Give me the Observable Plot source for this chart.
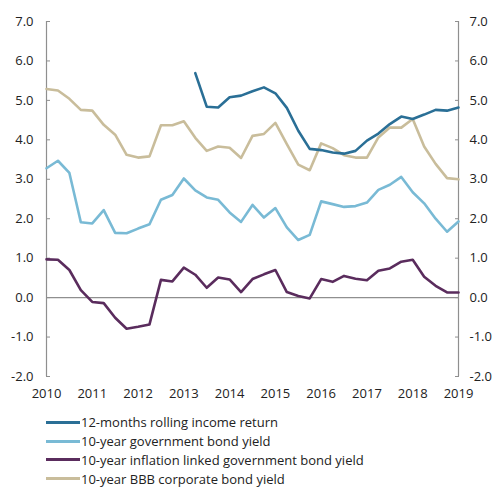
<!DOCTYPE html>
<html>
<head>
<meta charset="utf-8">
<script src="https://cdn.jsdelivr.net/npm/d3@7"></script>
<script src="https://cdn.jsdelivr.net/npm/@observablehq/plot@0.6"></script>
<style>
  body { margin: 0; background: #fff; font-family: "Open Sans", sans-serif; }
  #chart svg { display: block; }
  .legend { margin: 8px 0 0 46px; font-size: 13px; color: #222; }
  .legend .row { display: flex; align-items: center; height: 18.8px; }
  .legend .swatch { width: 34px; height: 3px; margin-right: 1px; }
</style>
</head>
<body>
<div id="chart"></div>
<div class="legend" id="legend"></div>
<script>
// Quarterly observations, 2010 Q1 to 2019 Q1
const quarters = d3.range(0, 37).map(i => 2010 + i / 4);

const seriesNames = [
  "12-months rolling income return",
  "10-year government bond yield",
  "10-year inflation linked government bond yield",
  "10-year BBB corporate bond yield"
];
const seriesColors = ["#2a6f96", "#79bad5", "#5a2c5d", "#c9bd9b"];

// Income return starts in 2013 Q2 (null before that)
const incomeReturn = [
  null, null, null, null, null, null, null, null, null, null, null, null, null,
  5.69, 4.84, 4.82, 5.08, 5.12, 5.23, 5.33, 5.18, 4.81, 4.23, 3.77, 3.74,
  3.68, 3.65, 3.72, 3.98, 4.16, 4.40, 4.59, 4.53, 4.64, 4.76, 4.74, 4.82
];
const govYield = [
  3.28, 3.47, 3.16, 1.91, 1.88, 2.22, 1.64, 1.63, 1.75, 1.86, 2.48, 2.60, 3.02,
  2.72, 2.54, 2.48, 2.16, 1.92, 2.35, 2.03, 2.27, 1.78, 1.46, 1.59, 2.44,
  2.37, 2.30, 2.32, 2.41, 2.73, 2.86, 3.06, 2.67, 2.39, 2.00, 1.67, 1.93
];
const linkedYield = [
  0.97, 0.96, 0.70, 0.19, -0.11, -0.14, -0.51, -0.79, -0.74, -0.68, 0.45, 0.41, 0.76,
  0.58, 0.25, 0.51, 0.46, 0.14, 0.47, 0.59, 0.70, 0.14, 0.04, -0.02, 0.47,
  0.40, 0.55, 0.48, 0.44, 0.68, 0.74, 0.91, 0.96, 0.53, 0.30, 0.13, 0.13
];
const bbbYield = [
  5.29, 5.25, 5.04, 4.76, 4.74, 4.38, 4.13, 3.62, 3.55, 3.58, 4.37, 4.37, 4.47,
  4.05, 3.72, 3.83, 3.80, 3.54, 4.10, 4.15, 4.43, 3.89, 3.37, 3.23, 3.91,
  3.79, 3.61, 3.55, 3.55, 4.06, 4.31, 4.31, 4.53, 3.83, 3.39, 3.03, 3.00
];

const yTicks = [-2, -1, 0, 1, 2, 3, 4, 5, 6, 7];
const xTicks = d3.range(2010, 2020);

const allSeries = [incomeReturn, govYield, linkedYield, bbbYield];
const rows = allSeries.flatMap((vals, s) =>
  vals.map((v, i) => ({ date: quarters[i], value: v, series: seriesNames[s] }))
);

// Draw order: BBB at the back, income return on top
const drawOrder = [3, 2, 1, 0];

const fmt = d => d.toFixed(1);
const axisColor = "#8f8f8f";

const chart = Plot.plot({
  width: 497,
  height: 405,
  marginLeft: 46,
  marginRight: 39,
  marginTop: 21,
  marginBottom: 29,
  style: { fontFamily: "Open Sans, sans-serif", fontSize: "13px", color: "#222", background: "#fff" },
  x: { domain: [2010, 2019] },
  y: { domain: [-2, 7] },
  color: { domain: seriesNames, range: seriesColors },
  marks: [
    Plot.ruleY([0], { stroke: axisColor, strokeWidth: 1.2 }),
    Plot.ruleX([2010, 2019], { y1: -2, y2: 7, stroke: axisColor, strokeWidth: 1.2 }),
    Plot.axisY(yTicks, { anchor: "left", tickSize: -4, tickPadding: 17, stroke: axisColor, tickFormat: fmt, label: null, fill: "#222" }),
    Plot.axisY(yTicks, { anchor: "right", tickSize: -4, tickPadding: 15, stroke: axisColor, tickFormat: fmt, label: null, fill: "#222" }),
    Plot.axisX(xTicks, { anchor: "bottom", tickSize: 0, tickPadding: 12, tickFormat: d => String(d), label: null, fill: "#222" }),
    ...drawOrder.map(s =>
      Plot.line(rows.filter(r => r.series === seriesNames[s] && r.value != null), {
        x: "date", y: "value", stroke: "series", strokeWidth: 2.6, strokeLinejoin: "round"
      })
    )
  ]
});
document.getElementById("chart").append(chart);

const legend = document.getElementById("legend");
seriesNames.forEach((name, i) => {
  const row = document.createElement("div");
  row.className = "row";
  const sw = document.createElement("span");
  sw.className = "swatch";
  sw.style.background = seriesColors[i];
  const label = document.createElement("span");
  label.textContent = name;
  row.append(sw, label);
  legend.append(row);
});
</script>
</body>
</html>
